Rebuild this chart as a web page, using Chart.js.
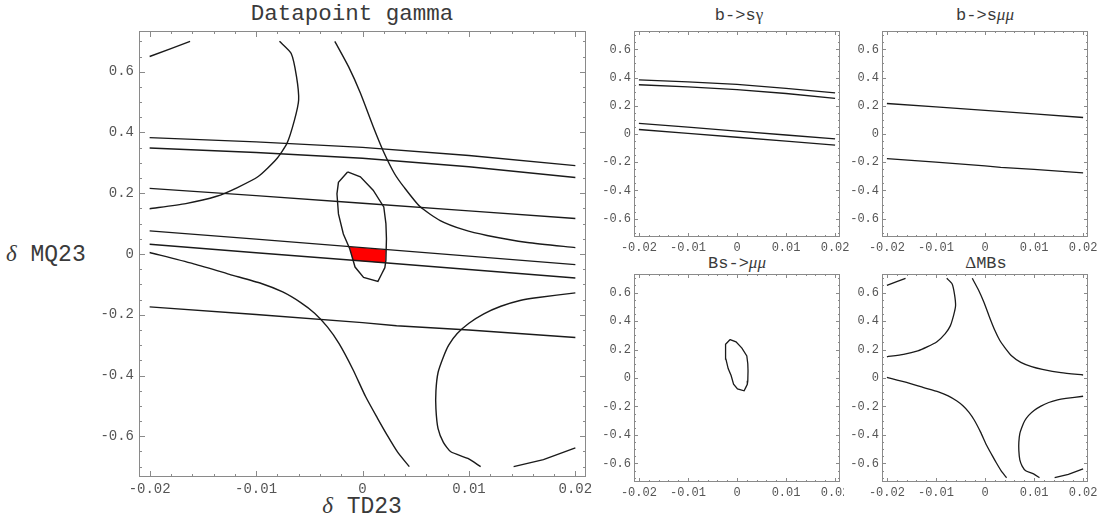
<!DOCTYPE html>
<html lang="en">
<head>
<meta charset="UTF-8">
<title>Datapoint gamma</title>
<style>
    body { margin: 0; background: #fff; }
    #page { position: relative; width: 1105px; height: 522px; overflow: hidden; background: #fff; }
    .box { position: absolute; }
    .crop { position: absolute; overflow: hidden; }
    .txt { position: absolute; font-family: 'Liberation Mono', monospace; color: #3a3a3a; text-align: center; white-space: pre; }
    .gr { font-family: 'Liberation Serif', serif; }
    .it { font-style: italic; }
</style>
</head>
<body>
<div id="page">
    <div class="txt" style="left:202px;top:1px;width:300px;font-size:22.5px;line-height:26px;">Datapoint gamma</div>
    <div class="txt" style="left:6px;top:240px;width:92px;font-size:23px;line-height:28px;text-align:left;"><span class="gr it">δ</span> MQ23</div>
    <div class="txt" style="left:262px;top:492px;width:200px;font-size:23px;line-height:28px;"><span class="gr it">δ</span> TD23</div>

    <div class="txt" style="left:659px;top:4px;width:160px;font-size:17px;line-height:22px;">b-&gt;s<span class="gr">γ</span></div>
    <div class="txt" style="left:905px;top:4px;width:160px;font-size:17px;line-height:22px;">b-&gt;s<span class="gr it">μμ</span></div>
    <div class="txt" style="left:657px;top:252px;width:160px;font-size:17px;line-height:22px;">Bs-&gt;<span class="gr it">μμ</span></div>
    <div class="txt" style="left:906px;top:252px;width:160px;font-size:17px;line-height:22px;"><span class="gr">Δ</span>MBs</div>

    <div class="box" style="left:0;top:0;"><canvas id="main" width="600" height="522"></canvas></div>
    <div class="box" style="left:600px;top:0;"><canvas id="bsg" width="260" height="260"></canvas></div>
    <div class="box" style="left:845px;top:0;"><canvas id="bsmm" width="260" height="260"></canvas></div>
    <div class="crop" style="left:600px;top:255px;width:244px;height:267px;"><canvas id="bsmumu" width="260" height="267"></canvas></div>
    <div class="box" style="left:845px;top:255px;"><canvas id="dmbs" width="260" height="267"></canvas></div>
</div>
<script src="https://cdn.jsdelivr.net/npm/chart.js"></script>
<script>
// tick values and labels (same on every panel)
const xTickVals = [-0.02, -0.01, 0, 0.01, 0.02];
const xTickText = ['-0.02', '-0.01', '0', '0.01', '0.02'];
const yTickVals = [-0.6, -0.4, -0.2, 0, 0.2, 0.4, 0.6];
const yTickText = ['-0.6', '-0.4', '-0.2', '0', '0.2', '0.4', '0.6'];

// b->s gamma contours  [dTD23, dMQ23]
const bsgLine1 = [[-0.02, 0.383], [-0.01, 0.369], [0, 0.351], [0.01, 0.324], [0.02, 0.291]];
const bsgLine2 = [[-0.02, 0.349], [-0.01, 0.334], [0, 0.315], [0.01, 0.287], [0.02, 0.252]];
const bsgLine3 = [[-0.02, 0.076], [-0.01, 0.049], [0, 0.021], [0.01, -0.007], [0.02, -0.035]];
const bsgLine4 = [[-0.02, 0.032], [-0.01, 0.004], [0, -0.023], [0.01, -0.051], [0.02, -0.079]];

// b->s mu mu contours
const bsmmLine1 = [[-0.02, 0.216], [-0.01, 0.192], [0, 0.167], [0.01, 0.142], [0.02, 0.117]];
const bsmmLine2 = [[-0.02, -0.174], [-0.01, -0.199], [0, -0.226], [0.0032, -0.236], [0.01, -0.250], [0.02, -0.275]];

// Bs->mu mu closed contour
const bsmumuLoop = [[-0.0014, 0.27], [-0.0002, 0.254], [0.001, 0.21], [0.002, 0.155], [0.0022, 0.1],
    [0.00225, 0.05], [0.0022, -0.02], [0.0021, -0.045], [0.0018, -0.066], [0.00145, -0.09],
    [0.0001, -0.077], [-0.0007, -0.043], [-0.0012, 0.017], [-0.0018, 0.066], [-0.00226, 0.132],
    [-0.0024, 0.198], [-0.00226, 0.236], [-0.0014, 0.27]];

// Delta MBs contours
const dmbsCornerTL = [[-0.02, 0.650], [-0.018, 0.676], [-0.0162, 0.700]];
const dmbsUpperLeft = [[-0.0078, 0.700], [-0.0067, 0.660], [-0.0062, 0.584], [-0.0060, 0.507],
    [-0.0064, 0.440], [-0.0071, 0.364], [-0.0081, 0.312], [-0.0098, 0.255], [-0.0118, 0.218],
    [-0.0137, 0.190], [-0.0166, 0.166], [-0.02, 0.149]];
const dmbsUpperRight = [[-0.0026, 0.700], [-0.0013, 0.616], [-0.0002, 0.530], [0.001, 0.420],
    [0.002, 0.335], [0.003, 0.265], [0.0039, 0.220], [0.0054, 0.156], [0.0073, 0.110],
    [0.0095, 0.080], [0.0117, 0.061], [0.0155, 0.038], [0.02, 0.021]];
const dmbsLowerLeft = [[-0.02, 0.005], [-0.016, -0.031], [-0.0125, -0.067], [-0.0095, -0.097],
    [-0.0075, -0.125], [-0.0058, -0.160], [-0.0045, -0.195], [-0.0033, -0.240], [-0.0022, -0.295],
    [-0.0009, -0.380], [0.0003, -0.470], [0.0014, -0.540], [0.0023, -0.595], [0.0033, -0.652],
    [0.0044, -0.700]];
const dmbsLowerRight = [[0.02, -0.128], [0.0165, -0.143], [0.0148, -0.153], [0.013, -0.172],
    [0.0114, -0.197], [0.0100, -0.228], [0.0089, -0.262], [0.0081, -0.300], [0.0076, -0.339],
    [0.0071, -0.390], [0.0069, -0.450], [0.0069, -0.510], [0.0071, -0.575], [0.0076, -0.620],
    [0.0083, -0.651], [0.0099, -0.673], [0.0111, -0.700]];
const dmbsCornerBR = [[0.0142, -0.700], [0.0170, -0.677], [0.02, -0.638]];

// allowed region (all constraints overlap)
const allowedRegion = [[-0.0012, 0.0236], [0.0022, 0.0144], [0.00215, -0.0294], [-0.0009, -0.021],
    [-0.00106, 0.0], [-0.0012, 0.0236]];

// frame with inward major/minor ticks on all four sides
const frameTicks = {
    id: 'frameTicks',
    afterDraw(chart, args, o) {
        const { ctx, chartArea: a, scales: { x, y } } = chart;
        ctx.save();
        ctx.strokeStyle = '#8a8a8a';
        ctx.lineWidth = 1;
        ctx.strokeRect(Math.round(a.left) + 0.5, Math.round(a.top) + 0.5,
            Math.round(a.right) - Math.round(a.left) - 1, Math.round(a.bottom) - Math.round(a.top) - 1);
        ctx.beginPath();
        const tx = (v, len) => {
            const p = Math.round(x.getPixelForValue(v)) + 0.5;
            ctx.moveTo(p, a.bottom); ctx.lineTo(p, a.bottom - len);
            ctx.moveTo(p, a.top); ctx.lineTo(p, a.top + len);
        };
        const ty = (v, len) => {
            const p = Math.round(y.getPixelForValue(v)) + 0.5;
            ctx.moveTo(a.left, p); ctx.lineTo(a.left + len, p);
            ctx.moveTo(a.right, p); ctx.lineTo(a.right - len, p);
        };
        for (let i = -10; i <= 10; i++) tx(i * 0.002, i % 5 === 0 ? o.major : o.minor);
        for (let i = -14; i <= 14; i++) ty(i * 0.05, i % 4 === 0 ? o.major : o.minor);
        ctx.stroke();
        ctx.restore();
    }
};

function curve(pts, width, tension) {
    return {
        data: pts.map(([x, y]) => ({ x, y })),
        showLine: true,
        borderColor: '#1a1a1a',
        borderWidth: width,
        pointRadius: 0,
        tension: tension,
        fill: false
    };
}

function region(pts) {
    return {
        data: pts.map(([x, y]) => ({ x, y })),
        showLine: true,
        borderWidth: 0,
        borderColor: 'rgba(0,0,0,0)',
        backgroundColor: '#ff0000',
        pointRadius: 0,
        fill: 'shape',
        order: 5
    };
}

function panel(id, datasets, c) {
    const tickFont = { family: 'Liberation Mono', size: c.fs };
    new Chart(document.getElementById(id), {
        type: 'scatter',
        data: { datasets: datasets },
        options: {
            responsive: false,
            animation: false,
            devicePixelRatio: 1,
            events: [],
            layout: { padding: { left: 0, top: c.top, right: c.right, bottom: 0 } },
            plugins: {
                legend: { display: false },
                tooltip: { enabled: false },
                frameTicks: { major: c.major, minor: c.minor }
            },
            scales: {
                x: {
                    type: 'linear', min: -0.021, max: 0.021,
                    grid: { display: false, drawTicks: false }, border: { display: false },
                    afterBuildTicks: s => { s.ticks = xTickVals.map(v => ({ value: v })); },
                    afterFit: s => { s.height = c.xh; },
                    ticks: {
                        padding: c.xpad, color: '#555', font: tickFont, maxRotation: 0, autoSkip: false,
                        callback: (v, i) => xTickText[i]
                    }
                },
                y: {
                    type: 'linear', min: -c.ymax, max: c.ymax,
                    grid: { display: false, drawTicks: false }, border: { display: false },
                    afterBuildTicks: s => { s.ticks = yTickVals.map(v => ({ value: v })); },
                    afterFit: s => { s.width = c.yw; },
                    ticks: {
                        padding: c.ypad, color: '#555', font: tickFont, autoSkip: false,
                        callback: (v, i) => yTickText[i]
                    }
                }
            }
        },
        plugins: [frameTicks]
    });
}

const big = { fs: 14, top: 31, right: 14, xh: 45, yw: 139, xpad: 4, ypad: 5, ymax: 0.734, major: 6, minor: 3 };
panel('main', [
    curve(bsgLine1, 1.4, 0), curve(bsgLine2, 1.4, 0), curve(bsgLine3, 1.4, 0), curve(bsgLine4, 1.4, 0),
    curve(bsmmLine1, 1.4, 0), curve(bsmmLine2, 1.4, 0),
    curve(bsmumuLoop, 1.4, 0),
    curve(dmbsCornerTL, 1.4, 0), curve(dmbsUpperLeft, 1.4, 0.2), curve(dmbsUpperRight, 1.4, 0.2),
    curve(dmbsLowerLeft, 1.4, 0.2), curve(dmbsLowerRight, 1.4, 0.2), curve(dmbsCornerBR, 1.4, 0),
    region(allowedRegion)
], big);

const topSmall = { fs: 12, top: 31, right: 20, xh: 23, yw: 34, xpad: 4, ypad: 3, ymax: 0.73, major: 4, minor: 2 };
const topSmallR = Object.assign({}, topSmall, { right: 17, yw: 37 });
const lowSmall = Object.assign({}, topSmall, { top: 19, xh: 40 });
const lowSmallR = Object.assign({}, lowSmall, { right: 17, yw: 37 });

panel('bsg', [curve(bsgLine1, 1.3, 0), curve(bsgLine2, 1.3, 0), curve(bsgLine3, 1.3, 0), curve(bsgLine4, 1.3, 0)], topSmall);
panel('bsmm', [curve(bsmmLine1, 1.3, 0), curve(bsmmLine2, 1.3, 0)], topSmallR);
panel('bsmumu', [curve(bsmumuLoop, 1.3, 0)], lowSmall);
panel('dmbs', [
    curve(dmbsCornerTL, 1.3, 0), curve(dmbsUpperLeft, 1.3, 0.2), curve(dmbsUpperRight, 1.3, 0.2),
    curve(dmbsLowerLeft, 1.3, 0.2), curve(dmbsLowerRight, 1.3, 0.2), curve(dmbsCornerBR, 1.3, 0)
], lowSmallR);
</script>
</body>
</html>
